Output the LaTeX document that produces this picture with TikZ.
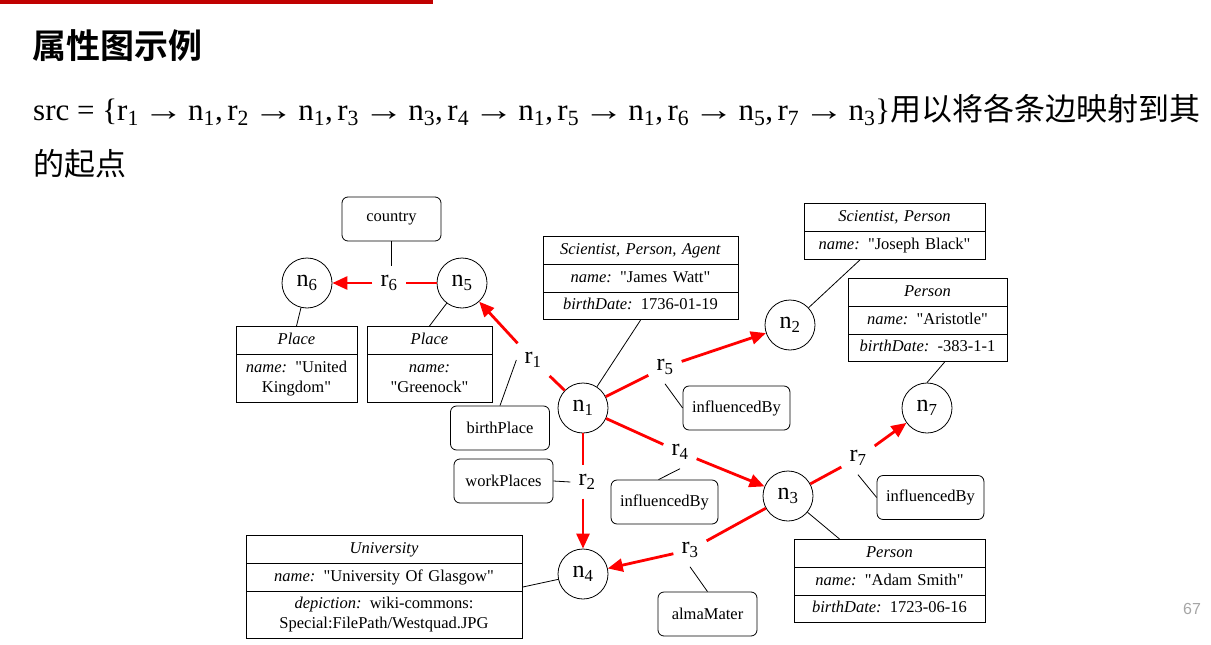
\documentclass[tikz,border=0pt]{standalone}
\usepackage{graphicx}
\usepackage{fontspec}
\setmainfont{Liberation Serif}
\newfontfamily\cjk{Noto Sans CJK SC}
\newfontfamily\cjkb{Noto Sans CJK SC Bold}
\newfontfamily\numfont{Liberation Sans}
\usetikzlibrary{arrows.meta,shapes.multipart}
\definecolor{barred}{RGB}{192,0,0}
\definecolor{edgered}{RGB}{255,0,0}
\newcommand{\dfont}{\fontsize{16.5}{20}\selectfont}
\newcommand{\efont}{\fontsize{24}{28}\selectfont}
\newcommand{\q}{\textquotedbl}
\newcommand{\maps}[2]{r\textsubscript{#1}\hspace{4.5pt}\scalebox{1.3}[1]{→}\hspace{4.5pt}n\textsubscript{#2}}
\tikzset{
  ent/.style={draw, circle, line width=0.8pt, minimum size=50pt, inner sep=0pt, font=\efont},
  rel/.style={inner xsep=8pt, inner ysep=9pt, font=\efont},
  prop/.style={draw, rounded corners=6pt, line width=0.8pt, minimum width=99pt, minimum height=44pt, inner xsep=9pt, font=\dfont},
  rec/.style={draw, rectangle split, rectangle split parts=#1, line width=0.8pt, align=center, inner xsep=3pt, inner ysep=3.5pt, anchor=north, font=\dfont},
  rline/.style={edgered, line width=2.8pt},
  rarrow/.style={rline, -{Triangle[length=15pt,width=13pt]}},
  link/.style={line width=0.8pt}
}
\begin{document}
\begin{tikzpicture}[x=1pt, y=-1pt]
\useasboundingbox (0,0) rectangle (1211,645);
\fill[barred] (0,0) rectangle (433,3.5);
\node[anchor=base west, inner sep=0pt, font=\cjkb\fontsize{34}{40}\selectfont] (title) at (32,58) {属性图示例};
\node[anchor=base west, inner sep=0pt, font=\fontsize{31}{40}\selectfont] (srcline) at (33,120) {src = \{\maps{1}{1},\hspace{4.5pt}\maps{2}{1},\hspace{4.5pt}\maps{3}{3},\hspace{4.5pt}\maps{4}{1},\hspace{4.5pt}\maps{5}{1},\hspace{4.5pt}\maps{6}{5},\hspace{4.5pt}\maps{7}{3}\}{\cjk 用以将各条边映射到其}};
\node[anchor=base west, inner sep=0pt, font=\cjk\fontsize{31}{40}\selectfont] (srcline2) at (33,175) {的起点};
\node[font=\numfont\fontsize{16}{20}\selectfont, text=gray!70] (pagenum) at (1192,609) {67};

\node[ent] (n1) at (583,408) {n\textsubscript{1}};
\node[ent] (n2) at (790,325) {n\textsubscript{2}};
\node[ent] (n3) at (788,496) {n\textsubscript{3}};
\node[ent] (n4) at (583,574) {n\textsubscript{4}};
\node[ent] (n5) at (462,283) {n\textsubscript{5}};
\node[ent] (n6) at (307,283) {n\textsubscript{6}};
\node[ent] (n7) at (927,408) {n\textsubscript{7}};

\node[rel] (r1) at (533,360) {r\textsubscript{1}};
\node[rel] (r2) at (587,482) {r\textsubscript{2}};
\node[rel] (r3) at (690,550) {r\textsubscript{3}};
\node[rel] (r4) at (680,452) {r\textsubscript{4}};
\node[rel] (r5) at (665,367) {r\textsubscript{5}};
\node[rel] (r6) at (389,283) {r\textsubscript{6}};
\node[rel] (r7) at (858,458) {r\textsubscript{7}};

\node[prop] (country) at (391.5,219) {country};
\node[prop] (bp) at (500,428) {birthPlace};
\node[prop] (wp) at (503.5,481) {workPlaces};
\node[prop] (inf5) at (736.5,408) {influencedBy};
\node[prop] (inf4) at (664.5,502) {influencedBy};
\node[prop] (inf7) at (930.5,497.5) {influencedBy};
\node[prop] (alma) at (707.5,614) {almaMater};

\node[rec=3, text width=189pt] (jw) at (640.5,236) {\strut\textit{Scientist, Person, Agent}\nodepart{two}\strut\textit{name:} \q James Watt\q\nodepart{three}\strut\textit{birthDate:} 1736-01-19};
\node[rec=2, text width=175pt] (jb) at (894.5,203) {\strut\textit{Scientist, Person}\nodepart{two}\strut\textit{name:} \q Joseph Black\q};
\node[rec=3, text width=153pt] (ar) at (927.5,278) {\strut\textit{Person}\nodepart{two}\strut\textit{name:} \q Aristotle\q\nodepart{three}\strut\textit{birthDate:} -383-1-1};
\node[rec=3, text width=185pt] (as) at (889.5,539) {\strut\textit{Person}\nodepart{two}\strut\textit{name:} \q Adam Smith\q\nodepart{three}\strut\textit{birthDate:} 1723-06-16};
\node[rec=3, text width=270pt] (uni) at (384,535) {\strut\textit{University}\nodepart{two}\strut\textit{name:} \q University Of Glasgow\q\nodepart{three}\strut\textit{depiction:} wiki-commons:\\Special:FilePath/Westquad.JPG\strut};
\node[rec=2, text width=115pt] (pl6) at (296.5,326) {\strut\textit{Place}\nodepart{two}\strut\textit{name:} \q United\\Kingdom\q\strut};
\node[rec=2, text width=119pt] (pl5) at (429.5,326) {\strut\textit{Place}\nodepart{two}\strut\textit{name:}\\\q Greenock\q\strut};

\draw[rline] (n1) -- (r1);
\draw[rarrow] (r1) -- (n5);
\draw[rline] (n1) -- (n1 |- r2.north);
\draw[rarrow] (n1 |- r2.south) -- (n4);
\draw[rline] (n3) -- (r3);
\draw[rarrow] (r3) -- (n4);
\draw[rline] (n1) -- (r4);
\draw[rarrow] (r4) -- (n3);
\draw[rline] (n1) -- (r5);
\draw[rarrow] (r5) -- (n2);
\draw[rline] (n5) -- (r6);
\draw[rarrow] (r6) -- (n6);
\draw[rline] (n3) -- (r7);
\draw[rarrow] (r7) -- (n7);

\draw[link] (country.south) -- (country.south |- r6.north);
\draw[link] (n6) -- (pl6.north);
\draw[link] (n5) -- (pl5.north);
\draw[link] (jw.south) -- (n1);
\draw[link] ([xshift=-34pt]jb.south) -- (n2);
\draw[link] ([xshift=17pt]ar.south) -- (n7.north);
\draw[link] (n3) -- ([xshift=-50pt]as.north);
\draw[link] (uni.east) -- (n4);
\draw[link] (bp.north) -- (r1.west);
\draw[link] (wp.east) -- (r2.west);
\draw[link] (r5.south) -- (inf5.west);
\draw[link] (r4.south) -- ([xshift=-6pt]inf4.north);
\draw[link] (r7.south) -- (inf7.west);
\draw[link] (r3.south) -- (alma.north);
\end{tikzpicture}
\end{document}
